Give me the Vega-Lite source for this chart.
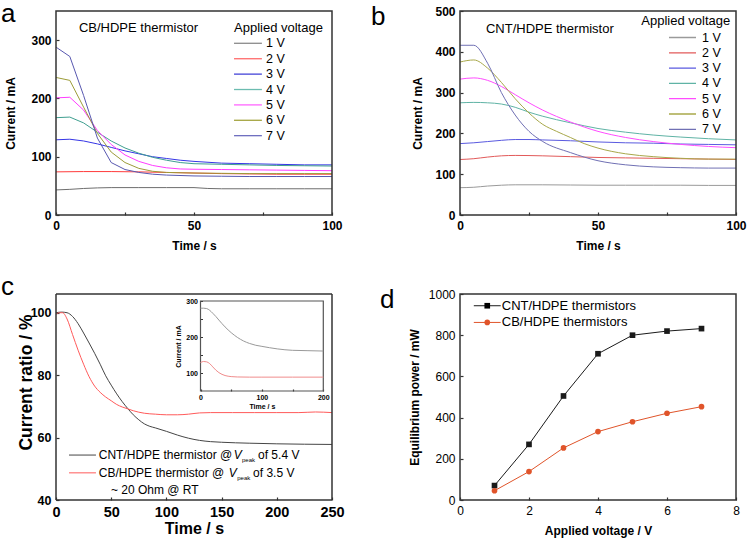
{
  "$schema": "https://vega.github.io/schema/vega-lite/v6.json",
  "padding": {"left": 1, "top": 1, "right": 5, "bottom": 4},
  "config": {
    "font": "Liberation Sans",
    "view": {"stroke": null},
    "axis": {"grid": false, "domain": false, "tickSize": -3, "tickColor": "#333333", "tickWidth": 1.2, "labelPadding": 8, "labelFlush": false, "labelOverlap": false, "labelColor": "#000", "titleColor": "#000", "labelFont": "Liberation Sans", "titleFont": "Liberation Sans", "labelFontWeight": "bold", "titleFontWeight": "bold", "labelFontSize": 12, "titleFontSize": 12},
    "legend": {"labelFont": "Liberation Sans", "labelFontSize": 12.5, "labelColor": "#000", "padding": 0},
    "text": {"font": "Liberation Sans", "color": "#000"},
    "title": {"font": "Liberation Sans", "fontWeight": "normal", "fontSize": 26, "anchor": "start", "frame": "group", "offset": 0, "baseline": "alphabetic", "color": "#000"}
  },
  "columns": 2,
  "spacing": {"row": 79, "column": 128},
  "bounds": "flush",
  "resolve": {"scale": {"x": "independent", "y": "independent", "color": "independent", "shape": "independent"}, "legend": {"color": "independent"}},
  "datasets": {
    "a": [
      {"t":0,"I":43,"V":"1 V"},{"t":5,"I":44,"V":"1 V"},{"t":10,"I":45.5,"V":"1 V"},{"t":15,"I":46.5,"V":"1 V"},{"t":20,"I":47,"V":"1 V"},{"t":30,"I":47,"V":"1 V"},{"t":40,"I":47,"V":"1 V"},{"t":50,"I":47,"V":"1 V"},{"t":55,"I":45.5,"V":"1 V"},{"t":60,"I":45,"V":"1 V"},{"t":70,"I":45,"V":"1 V"},{"t":80,"I":45,"V":"1 V"},{"t":90,"I":45,"V":"1 V"},{"t":100,"I":45,"V":"1 V"},
      {"t":0,"I":74,"V":"2 V"},{"t":10,"I":74.5,"V":"2 V"},{"t":20,"I":74.5,"V":"2 V"},{"t":30,"I":74,"V":"2 V"},{"t":40,"I":73,"V":"2 V"},{"t":50,"I":72,"V":"2 V"},{"t":60,"I":71,"V":"2 V"},{"t":70,"I":70.5,"V":"2 V"},{"t":80,"I":70,"V":"2 V"},{"t":90,"I":70,"V":"2 V"},{"t":100,"I":70,"V":"2 V"},
      {"t":0,"I":129,"V":"3 V"},{"t":5,"I":130,"V":"3 V"},{"t":10,"I":127,"V":"3 V"},{"t":15,"I":122,"V":"3 V"},{"t":20,"I":116,"V":"3 V"},{"t":25,"I":110,"V":"3 V"},{"t":30,"I":105,"V":"3 V"},{"t":35,"I":100,"V":"3 V"},{"t":40,"I":97,"V":"3 V"},{"t":45,"I":94,"V":"3 V"},{"t":50,"I":92,"V":"3 V"},{"t":60,"I":89,"V":"3 V"},{"t":70,"I":88,"V":"3 V"},{"t":80,"I":87,"V":"3 V"},{"t":90,"I":86,"V":"3 V"},{"t":100,"I":86,"V":"3 V"},
      {"t":0,"I":167,"V":"4 V"},{"t":5,"I":168,"V":"4 V"},{"t":10,"I":158,"V":"4 V"},{"t":15,"I":142,"V":"4 V"},{"t":20,"I":127,"V":"4 V"},{"t":25,"I":115,"V":"4 V"},{"t":30,"I":106,"V":"4 V"},{"t":35,"I":99,"V":"4 V"},{"t":40,"I":94,"V":"4 V"},{"t":45,"I":90,"V":"4 V"},{"t":50,"I":88,"V":"4 V"},{"t":60,"I":87,"V":"4 V"},{"t":70,"I":86,"V":"4 V"},{"t":80,"I":85,"V":"4 V"},{"t":90,"I":84.5,"V":"4 V"},{"t":100,"I":84,"V":"4 V"},
      {"t":0,"I":201,"V":"5 V"},{"t":5,"I":202,"V":"5 V"},{"t":10,"I":180,"V":"5 V"},{"t":15,"I":145,"V":"5 V"},{"t":20,"I":121,"V":"5 V"},{"t":25,"I":103,"V":"5 V"},{"t":30,"I":92,"V":"5 V"},{"t":35,"I":85,"V":"5 V"},{"t":40,"I":81,"V":"5 V"},{"t":45,"I":79,"V":"5 V"},{"t":50,"I":78.5,"V":"5 V"},{"t":60,"I":78,"V":"5 V"},{"t":70,"I":77.5,"V":"5 V"},{"t":80,"I":77,"V":"5 V"},{"t":90,"I":76.5,"V":"5 V"},{"t":100,"I":76,"V":"5 V"},
      {"t":0,"I":236,"V":"6 V"},{"t":5,"I":231,"V":"6 V"},{"t":10,"I":185,"V":"6 V"},{"t":15,"I":140,"V":"6 V"},{"t":20,"I":108,"V":"6 V"},{"t":25,"I":90,"V":"6 V"},{"t":30,"I":80,"V":"6 V"},{"t":35,"I":75,"V":"6 V"},{"t":40,"I":73,"V":"6 V"},{"t":50,"I":72,"V":"6 V"},{"t":60,"I":71.5,"V":"6 V"},{"t":70,"I":71,"V":"6 V"},{"t":80,"I":71,"V":"6 V"},{"t":90,"I":71,"V":"6 V"},{"t":100,"I":71,"V":"6 V"},
      {"t":0,"I":288,"V":"7 V"},{"t":5,"I":272,"V":"7 V"},{"t":10,"I":205,"V":"7 V"},{"t":15,"I":132,"V":"7 V"},{"t":20,"I":90,"V":"7 V"},{"t":25,"I":78,"V":"7 V"},{"t":30,"I":73,"V":"7 V"},{"t":35,"I":70,"V":"7 V"},{"t":40,"I":68.5,"V":"7 V"},{"t":50,"I":67,"V":"7 V"},{"t":60,"I":66.5,"V":"7 V"},{"t":70,"I":66,"V":"7 V"},{"t":80,"I":66,"V":"7 V"},{"t":90,"I":66,"V":"7 V"},{"t":100,"I":66,"V":"7 V"}
    ],
    "b": [
      {"t":0,"I":67,"V":"1 V"},{"t":5,"I":68,"V":"1 V"},{"t":10,"I":71,"V":"1 V"},{"t":15,"I":73,"V":"1 V"},{"t":20,"I":74,"V":"1 V"},{"t":30,"I":74,"V":"1 V"},{"t":40,"I":73.5,"V":"1 V"},{"t":50,"I":73,"V":"1 V"},{"t":60,"I":73,"V":"1 V"},{"t":70,"I":73,"V":"1 V"},{"t":80,"I":73,"V":"1 V"},{"t":90,"I":72.5,"V":"1 V"},{"t":100,"I":72.5,"V":"1 V"},
      {"t":0,"I":136,"V":"2 V"},{"t":5,"I":138,"V":"2 V"},{"t":10,"I":142,"V":"2 V"},{"t":15,"I":145,"V":"2 V"},{"t":20,"I":146,"V":"2 V"},{"t":30,"I":145,"V":"2 V"},{"t":40,"I":143,"V":"2 V"},{"t":50,"I":141,"V":"2 V"},{"t":60,"I":140,"V":"2 V"},{"t":70,"I":139,"V":"2 V"},{"t":80,"I":138,"V":"2 V"},{"t":90,"I":137,"V":"2 V"},{"t":100,"I":136,"V":"2 V"},
      {"t":0,"I":175,"V":"3 V"},{"t":5,"I":177,"V":"3 V"},{"t":10,"I":180,"V":"3 V"},{"t":15,"I":183,"V":"3 V"},{"t":20,"I":185,"V":"3 V"},{"t":25,"I":185,"V":"3 V"},{"t":30,"I":184,"V":"3 V"},{"t":40,"I":182,"V":"3 V"},{"t":50,"I":179,"V":"3 V"},{"t":60,"I":177,"V":"3 V"},{"t":70,"I":176,"V":"3 V"},{"t":80,"I":174,"V":"3 V"},{"t":90,"I":173,"V":"3 V"},{"t":100,"I":172,"V":"3 V"},
      {"t":0,"I":275,"V":"4 V"},{"t":5,"I":276,"V":"4 V"},{"t":10,"I":275,"V":"4 V"},{"t":15,"I":272,"V":"4 V"},{"t":20,"I":264,"V":"4 V"},{"t":25,"I":252,"V":"4 V"},{"t":30,"I":242,"V":"4 V"},{"t":40,"I":226,"V":"4 V"},{"t":50,"I":212,"V":"4 V"},{"t":60,"I":203,"V":"4 V"},{"t":70,"I":196,"V":"4 V"},{"t":80,"I":191,"V":"4 V"},{"t":90,"I":187,"V":"4 V"},{"t":100,"I":184,"V":"4 V"},
      {"t":0,"I":333,"V":"5 V"},{"t":5,"I":336,"V":"5 V"},{"t":10,"I":330,"V":"5 V"},{"t":15,"I":315,"V":"5 V"},{"t":20,"I":295,"V":"5 V"},{"t":25,"I":275,"V":"5 V"},{"t":30,"I":257,"V":"5 V"},{"t":40,"I":228,"V":"5 V"},{"t":50,"I":205,"V":"5 V"},{"t":60,"I":190,"V":"5 V"},{"t":70,"I":180,"V":"5 V"},{"t":80,"I":173,"V":"5 V"},{"t":90,"I":168,"V":"5 V"},{"t":100,"I":165,"V":"5 V"},
      {"t":0,"I":375,"V":"6 V"},{"t":5,"I":380,"V":"6 V"},{"t":10,"I":360,"V":"6 V"},{"t":15,"I":325,"V":"6 V"},{"t":20,"I":285,"V":"6 V"},{"t":25,"I":250,"V":"6 V"},{"t":30,"I":222,"V":"6 V"},{"t":35,"I":205,"V":"6 V"},{"t":40,"I":190,"V":"6 V"},{"t":45,"I":175,"V":"6 V"},{"t":50,"I":164,"V":"6 V"},{"t":60,"I":150,"V":"6 V"},{"t":70,"I":143,"V":"6 V"},{"t":80,"I":139,"V":"6 V"},{"t":90,"I":137,"V":"6 V"},{"t":100,"I":137,"V":"6 V"},
      {"t":0,"I":416,"V":"7 V"},{"t":5,"I":416,"V":"7 V"},{"t":10,"I":372,"V":"7 V"},{"t":15,"I":300,"V":"7 V"},{"t":20,"I":245,"V":"7 V"},{"t":25,"I":205,"V":"7 V"},{"t":30,"I":180,"V":"7 V"},{"t":40,"I":153,"V":"7 V"},{"t":50,"I":133,"V":"7 V"},{"t":60,"I":123,"V":"7 V"},{"t":70,"I":118,"V":"7 V"},{"t":80,"I":116,"V":"7 V"},{"t":90,"I":115,"V":"7 V"},{"t":100,"I":115,"V":"7 V"}
    ],
    "c": [
      {"t":0,"r":100,"s":"CNT"},{"t":5,"r":100.2,"s":"CNT"},{"t":10,"r":100,"s":"CNT"},{"t":15,"r":98.8,"s":"CNT"},{"t":20,"r":96.5,"s":"CNT"},{"t":25,"r":93.5,"s":"CNT"},{"t":30,"r":90.3,"s":"CNT"},{"t":35,"r":87,"s":"CNT"},{"t":40,"r":83.5,"s":"CNT"},{"t":45,"r":79.8,"s":"CNT"},{"t":50,"r":76.8,"s":"CNT"},{"t":55,"r":74,"s":"CNT"},{"t":60,"r":71.5,"s":"CNT"},{"t":65,"r":69.3,"s":"CNT"},{"t":70,"r":67.3,"s":"CNT"},{"t":75,"r":65.7,"s":"CNT"},{"t":80,"r":64.4,"s":"CNT"},{"t":85,"r":63.6,"s":"CNT"},{"t":90,"r":63.1,"s":"CNT"},{"t":100,"r":62,"s":"CNT"},{"t":110,"r":60.8,"s":"CNT"},{"t":120,"r":59.8,"s":"CNT"},{"t":130,"r":59.1,"s":"CNT"},{"t":140,"r":58.7,"s":"CNT"},{"t":150,"r":58.5,"s":"CNT"},{"t":175,"r":58.2,"s":"CNT"},{"t":200,"r":58,"s":"CNT"},{"t":250,"r":57.8,"s":"CNT"},
      {"t":0,"r":99.5,"s":"CB"},{"t":3,"r":100,"s":"CB"},{"t":6,"r":100,"s":"CB"},{"t":10,"r":98,"s":"CB"},{"t":15,"r":93,"s":"CB"},{"t":20,"r":88,"s":"CB"},{"t":25,"r":83.5,"s":"CB"},{"t":30,"r":79.5,"s":"CB"},{"t":35,"r":76.5,"s":"CB"},{"t":40,"r":74.5,"s":"CB"},{"t":45,"r":73,"s":"CB"},{"t":50,"r":71.8,"s":"CB"},{"t":55,"r":70.6,"s":"CB"},{"t":60,"r":69.8,"s":"CB"},{"t":65,"r":69.2,"s":"CB"},{"t":70,"r":68.6,"s":"CB"},{"t":80,"r":67.8,"s":"CB"},{"t":90,"r":67.5,"s":"CB"},{"t":100,"r":67.3,"s":"CB"},{"t":110,"r":67.3,"s":"CB"},{"t":120,"r":67.5,"s":"CB"},{"t":130,"r":67.9,"s":"CB"},{"t":140,"r":68,"s":"CB"},{"t":160,"r":68,"s":"CB"},{"t":180,"r":68,"s":"CB"},{"t":200,"r":68,"s":"CB"},{"t":220,"r":68,"s":"CB"},{"t":235,"r":68.2,"s":"CB"},{"t":250,"r":68,"s":"CB"}
    ],
    "inset": [
      {"t":0,"I":280,"s":"CNT"},{"t":5,"I":280,"s":"CNT"},{"t":10,"I":279,"s":"CNT"},{"t":15,"I":274,"s":"CNT"},{"t":20,"I":266,"s":"CNT"},{"t":25,"I":257,"s":"CNT"},{"t":30,"I":247,"s":"CNT"},{"t":40,"I":228,"s":"CNT"},{"t":50,"I":212,"s":"CNT"},{"t":60,"I":199,"s":"CNT"},{"t":70,"I":189,"s":"CNT"},{"t":80,"I":182,"s":"CNT"},{"t":90,"I":177,"s":"CNT"},{"t":100,"I":174,"s":"CNT"},{"t":125,"I":167,"s":"CNT"},{"t":150,"I":163,"s":"CNT"},{"t":175,"I":162,"s":"CNT"},{"t":200,"I":161,"s":"CNT"},
      {"t":0,"I":129,"s":"CB"},{"t":5,"I":132,"s":"CB"},{"t":10,"I":131,"s":"CB"},{"t":15,"I":126,"s":"CB"},{"t":20,"I":117,"s":"CB"},{"t":25,"I":108,"s":"CB"},{"t":30,"I":101,"s":"CB"},{"t":40,"I":93,"s":"CB"},{"t":50,"I":90,"s":"CB"},{"t":60,"I":89,"s":"CB"},{"t":80,"I":88.5,"s":"CB"},{"t":100,"I":88.5,"s":"CB"},{"t":150,"I":88.5,"s":"CB"},{"t":200,"I":88.5,"s":"CB"}
    ],
    "d": [
      {"V":1,"P":70,"s":"CNT/HDPE thermistors"},{"V":2,"P":270,"s":"CNT/HDPE thermistors"},{"V":3,"P":505,"s":"CNT/HDPE thermistors"},{"V":4,"P":710,"s":"CNT/HDPE thermistors"},{"V":5,"P":800,"s":"CNT/HDPE thermistors"},{"V":6,"P":820,"s":"CNT/HDPE thermistors"},{"V":7,"P":832,"s":"CNT/HDPE thermistors"},
      {"V":1,"P":45,"s":"CB/HDPE thermistors"},{"V":2,"P":138,"s":"CB/HDPE thermistors"},{"V":3,"P":253,"s":"CB/HDPE thermistors"},{"V":4,"P":332,"s":"CB/HDPE thermistors"},{"V":5,"P":380,"s":"CB/HDPE thermistors"},{"V":6,"P":421,"s":"CB/HDPE thermistors"},{"V":7,"P":453,"s":"CB/HDPE thermistors"}
    ]
  },
  "concat": [
    {
      "title": {"text": "a", "dx": -55, "dy": 21},
      "width": 276, "height": 204,
      "layer": [
        {
          "data": {"name": "a"},
          "mark": {"type": "line", "strokeWidth": 1},
          "encoding": {
            "x": {"field": "t", "type": "quantitative", "scale": {"domain": [0, 100], "nice": false}, "axis": {"title": "Time / s", "values": [0, 25, 50, 75, 100], "labelExpr": "datum.value % 50 === 0 ? datum.label : ''", "titlePadding": 9}},
            "y": {"field": "I", "type": "quantitative", "scale": {"domain": [0, 350], "nice": false}, "axis": {"title": "Current / mA", "values": [0, 50, 100, 150, 200, 250, 300], "labelExpr": "datum.value % 100 === 0 ? datum.label : ''", "titlePadding": 13}},
            "color": {"field": "V", "type": "nominal",
              "scale": {"domain": ["1 V", "2 V", "3 V", "4 V", "5 V", "6 V", "7 V"], "range": ["#6e6e6e", "#ff3b3b", "#3535e6", "#3f9f90", "#ff3cff", "#9c9c38", "#5858b0"]},
              "legend": null}
          }
        },
        {"data": {"values": [{}]}, "mark": {"type": "rule", "color": "#8a8a8a", "strokeWidth": 1.3}, "encoding": {"x": {"datum": 64.5, "type": "quantitative"}, "x2": {"datum": 74.6}, "y": {"datum": 294.6, "type": "quantitative"}}},
        {"data": {"values": [{}]}, "mark": {"type": "rule", "color": "#ff6b6b", "strokeWidth": 1.3}, "encoding": {"x": {"datum": 64.5, "type": "quantitative"}, "x2": {"datum": 74.6}, "y": {"datum": 268.1, "type": "quantitative"}}},
        {"data": {"values": [{}]}, "mark": {"type": "rule", "color": "#4545d8", "strokeWidth": 1.3}, "encoding": {"x": {"datum": 64.5, "type": "quantitative"}, "x2": {"datum": 74.6}, "y": {"datum": 241.7, "type": "quantitative"}}},
        {"data": {"values": [{}]}, "mark": {"type": "rule", "color": "#6cbcb0", "strokeWidth": 1.3}, "encoding": {"x": {"datum": 64.5, "type": "quantitative"}, "x2": {"datum": 74.6}, "y": {"datum": 215.3, "type": "quantitative"}}},
        {"data": {"values": [{}]}, "mark": {"type": "rule", "color": "#ff66ff", "strokeWidth": 1.3}, "encoding": {"x": {"datum": 64.5, "type": "quantitative"}, "x2": {"datum": 74.6}, "y": {"datum": 188.9, "type": "quantitative"}}},
        {"data": {"values": [{}]}, "mark": {"type": "rule", "color": "#a3a33f", "strokeWidth": 1.3}, "encoding": {"x": {"datum": 64.5, "type": "quantitative"}, "x2": {"datum": 74.6}, "y": {"datum": 162.5, "type": "quantitative"}}},
        {"data": {"values": [{}]}, "mark": {"type": "rule", "color": "#7070c0", "strokeWidth": 1.3}, "encoding": {"x": {"datum": 64.5, "type": "quantitative"}, "x2": {"datum": 74.6}, "y": {"datum": 136.1, "type": "quantitative"}}},
        {"data": {"values": [{}]}, "mark": {"type": "text", "align": "left", "baseline": "middle", "fontSize": 12.5}, "encoding": {"x": {"datum": 76.1, "type": "quantitative"}, "y": {"datum": 294.6, "type": "quantitative"}, "text": {"value": "1 V"}}},
        {"data": {"values": [{}]}, "mark": {"type": "text", "align": "left", "baseline": "middle", "fontSize": 12.5}, "encoding": {"x": {"datum": 76.1, "type": "quantitative"}, "y": {"datum": 268.1, "type": "quantitative"}, "text": {"value": "2 V"}}},
        {"data": {"values": [{}]}, "mark": {"type": "text", "align": "left", "baseline": "middle", "fontSize": 12.5}, "encoding": {"x": {"datum": 76.1, "type": "quantitative"}, "y": {"datum": 241.7, "type": "quantitative"}, "text": {"value": "3 V"}}},
        {"data": {"values": [{}]}, "mark": {"type": "text", "align": "left", "baseline": "middle", "fontSize": 12.5}, "encoding": {"x": {"datum": 76.1, "type": "quantitative"}, "y": {"datum": 215.3, "type": "quantitative"}, "text": {"value": "4 V"}}},
        {"data": {"values": [{}]}, "mark": {"type": "text", "align": "left", "baseline": "middle", "fontSize": 12.5}, "encoding": {"x": {"datum": 76.1, "type": "quantitative"}, "y": {"datum": 188.9, "type": "quantitative"}, "text": {"value": "5 V"}}},
        {"data": {"values": [{}]}, "mark": {"type": "text", "align": "left", "baseline": "middle", "fontSize": 12.5}, "encoding": {"x": {"datum": 76.1, "type": "quantitative"}, "y": {"datum": 162.5, "type": "quantitative"}, "text": {"value": "6 V"}}},
        {"data": {"values": [{}]}, "mark": {"type": "text", "align": "left", "baseline": "middle", "fontSize": 12.5}, "encoding": {"x": {"datum": 76.1, "type": "quantitative"}, "y": {"datum": 136.1, "type": "quantitative"}, "text": {"value": "7 V"}}},
        {
          "data": {"values": [{}]},
          "mark": {"type": "text", "align": "left", "baseline": "middle", "fontSize": 13},
          "encoding": {"x": {"datum": 8.3, "type": "quantitative"}, "y": {"datum": 320, "type": "quantitative"}, "text": {"value": "CB/HDPE thermistor"}}
        },
        {
          "data": {"values": [{}]},
          "mark": {"type": "text", "align": "left", "baseline": "middle", "fontSize": 13},
          "encoding": {"x": {"datum": 64.5, "type": "quantitative"}, "y": {"datum": 321, "type": "quantitative"}, "text": {"value": "Applied voltage"}}
        },
        {"data": {"values": [{}]}, "mark": {"type": "rect", "fill": "transparent", "stroke": "#333333", "strokeWidth": 1.5}, "encoding": {"x": {"datum": 0, "type": "quantitative"}, "x2": {"datum": 100}, "y": {"datum": 0, "type": "quantitative"}, "y2": {"datum": 350}}}
      ]
    },
    {
      "title": {"text": "b", "dx": -89, "dy": 29},
      "width": 276, "height": 204,
      "layer": [
        {
          "data": {"name": "b"},
          "mark": {"type": "line", "strokeWidth": 1, "interpolate": "monotone"},
          "encoding": {
            "x": {"field": "t", "type": "quantitative", "scale": {"domain": [0, 100], "nice": false}, "axis": {"title": "Time / s", "values": [0, 25, 50, 75, 100], "labelExpr": "datum.value % 50 === 0 ? datum.label : ''", "titlePadding": 9}},
            "y": {"field": "I", "type": "quantitative", "scale": {"domain": [0, 500], "nice": false}, "axis": {"title": "Current / mA", "values": [0, 50, 100, 150, 200, 250, 300, 350, 400, 450, 500], "labelExpr": "datum.value % 100 === 0 ? datum.label : ''", "titlePadding": 10}},
            "color": {"field": "V", "type": "nominal",
              "scale": {"domain": ["1 V", "2 V", "3 V", "4 V", "5 V", "6 V", "7 V"], "range": ["#9a9a9a", "#e25a5a", "#5a5ae0", "#5fb3a5", "#ff4cff", "#a8a84a", "#7070b4"]},
              "legend": {"orient": "none", "legendX": 208, "legendY": 20, "title": null, "symbolType": "stroke", "symbolSize": 729, "symbolStrokeWidth": 1.3, "clipHeight": 13, "rowPadding": 2.3, "labelOffset": 5}}
          }
        },
        {
          "data": {"values": [{}]},
          "mark": {"type": "text", "align": "left", "baseline": "middle", "fontSize": 13},
          "encoding": {"x": {"datum": 9.4, "type": "quantitative"}, "y": {"datum": 455, "type": "quantitative"}, "text": {"value": "CNT/HDPE thermistor"}}
        },
        {
          "data": {"values": [{}]},
          "mark": {"type": "text", "align": "left", "baseline": "middle", "fontSize": 13},
          "encoding": {"x": {"datum": 65.7, "type": "quantitative"}, "y": {"datum": 475, "type": "quantitative"}, "text": {"value": "Applied voltage"}}
        },
        {"data": {"values": [{}]}, "mark": {"type": "rect", "fill": "transparent", "stroke": "#333333", "strokeWidth": 1.5}, "encoding": {"x": {"datum": 0, "type": "quantitative"}, "x2": {"datum": 100}, "y": {"datum": 0, "type": "quantitative"}, "y2": {"datum": 500}}}
      ]
    },
    {
      "title": {"text": "c", "dx": -55, "dy": 11},
      "width": 276, "height": 206,
      "resolve": {"scale": {"x": "independent", "y": "independent", "color": "independent"}, "axis": {"x": "independent", "y": "independent"}},
      "layer": [
        {
          "layer": [
            {
              "data": {"name": "c"},
              "mark": {"type": "line", "strokeWidth": 1, "interpolate": "monotone"},
              "encoding": {
                "x": {"field": "t", "type": "quantitative", "scale": {"domain": [0, 250], "nice": false}, "axis": {"orient": "bottom", "title": "Time / s", "values": [0, 25, 50, 75, 100, 125, 150, 175, 200, 225, 250], "labelExpr": "datum.value % 50 === 0 ? datum.label : ''", "labelFontSize": 14.5, "titleFontSize": 16, "titlePadding": 2}},
                "y": {"field": "r", "type": "quantitative", "scale": {"domain": [40, 106], "nice": false}, "axis": {"orient": "left", "title": "Current ratio / %", "values": [40, 50, 60, 70, 80, 90, 100], "labelExpr": "datum.value % 20 === 0 ? datum.label : ''", "labelFontSize": 12.5, "titleFontSize": 17.5, "titleX": -21, "titleY": 88}},
                "color": {"field": "s", "type": "nominal", "scale": {"domain": ["CNT", "CB"], "range": ["#454545", "#ff5a5a"]}, "legend": null}
              }
            },
            {
              "data": {"values": [{}]},
              "mark": {"type": "rule", "color": "#454545", "strokeWidth": 1},
              "encoding": {"x": {"datum": 11.8, "type": "quantitative"}, "x2": {"datum": 36.2}, "y": {"datum": 54.4, "type": "quantitative"}}
            },
            {
              "data": {"values": [{}]},
              "mark": {"type": "rule", "color": "#ff5a5a", "strokeWidth": 1},
              "encoding": {"x": {"datum": 11.8, "type": "quantitative"}, "x2": {"datum": 36.2}, "y": {"datum": 48.7, "type": "quantitative"}}
            },
            {
              "data": {"values": [{}]},
              "mark": {"type": "rule", "color": "#333333", "strokeWidth": 1.5},
              "encoding": {"x": {"datum": 0, "type": "quantitative"}, "x2": {"datum": 250}, "y": {"datum": 106, "type": "quantitative"}}
            },
            {
              "data": {"values": [{}]},
              "mark": {"type": "rule", "color": "#333333", "strokeWidth": 1.5},
              "encoding": {"x": {"datum": 0, "type": "quantitative"}, "x2": {"datum": 250}, "y": {"datum": 40, "type": "quantitative"}}
            },
            {
              "data": {"values": [{}]},
              "mark": {"type": "rule", "color": "#333333", "strokeWidth": 1.5},
              "encoding": {"x": {"datum": 250, "type": "quantitative"}, "y": {"datum": 40, "type": "quantitative"}, "y2": {"datum": 106}}
            },
            {
              "data": {"values": [{}]},
              "mark": {"type": "rule", "color": "#333333", "strokeWidth": 1.5},
              "encoding": {"x": {"datum": 0, "type": "quantitative"}, "y": {"datum": 40, "type": "quantitative"}, "y2": {"datum": 106}}
            },
            {
              "data": {"values": [{}]},
              "mark": {"type": "text", "align": "left", "baseline": "middle", "fontSize": 12},
              "encoding": {"x": {"datum": 38.7, "type": "quantitative"}, "y": {"datum": 54.4, "type": "quantitative"}, "text": {"value": "CNT/HDPE thermistor @"}}
            },
            {
              "data": {"values": [{}]},
              "mark": {"type": "text", "align": "left", "baseline": "middle", "fontSize": 12, "fontStyle": "italic"},
              "encoding": {"x": {"datum": 161, "type": "quantitative"}, "y": {"datum": 54.4, "type": "quantitative"}, "text": {"value": "V"}}
            },
            {
              "data": {"values": [{}]},
              "mark": {"type": "text", "align": "left", "baseline": "middle", "fontSize": 6},
              "encoding": {"x": {"datum": 168.5, "type": "quantitative"}, "y": {"datum": 52.9, "type": "quantitative"}, "text": {"value": "peak"}}
            },
            {
              "data": {"values": [{}]},
              "mark": {"type": "text", "align": "left", "baseline": "middle", "fontSize": 12},
              "encoding": {"x": {"datum": 183, "type": "quantitative"}, "y": {"datum": 54.4, "type": "quantitative"}, "text": {"value": "of 5.4 V"}}
            },
            {
              "data": {"values": [{}]},
              "mark": {"type": "text", "align": "left", "baseline": "middle", "fontSize": 12},
              "encoding": {"x": {"datum": 38.7, "type": "quantitative"}, "y": {"datum": 48.7, "type": "quantitative"}, "text": {"value": "CB/HDPE thermistor @"}}
            },
            {
              "data": {"values": [{}]},
              "mark": {"type": "text", "align": "left", "baseline": "middle", "fontSize": 12, "fontStyle": "italic"},
              "encoding": {"x": {"datum": 156.4, "type": "quantitative"}, "y": {"datum": 48.7, "type": "quantitative"}, "text": {"value": "V"}}
            },
            {
              "data": {"values": [{}]},
              "mark": {"type": "text", "align": "left", "baseline": "middle", "fontSize": 6},
              "encoding": {"x": {"datum": 164.2, "type": "quantitative"}, "y": {"datum": 47.2, "type": "quantitative"}, "text": {"value": "peak"}}
            },
            {
              "data": {"values": [{}]},
              "mark": {"type": "text", "align": "left", "baseline": "middle", "fontSize": 12},
              "encoding": {"x": {"datum": 178.5, "type": "quantitative"}, "y": {"datum": 48.7, "type": "quantitative"}, "text": {"value": "of 3.5 V"}}
            },
            {
              "data": {"values": [{}]},
              "mark": {"type": "text", "align": "left", "baseline": "middle", "fontSize": 12},
              "encoding": {"x": {"datum": 49.8, "type": "quantitative"}, "y": {"datum": 43.2, "type": "quantitative"}, "text": {"value": "~ 20 Ohm @ RT"}}
            }
          ]
        },
        {
          "layer": [
            {
              "data": {"values": [{}]},
              "mark": {"type": "rect", "fill": "transparent", "stroke": "#555555", "strokeWidth": 1.2},
              "encoding": {
                "x": {"datum": 0, "type": "quantitative", "scale": {"domain": [0, 200], "range": [144.5, 267.3], "nice": false},
                  "axis": {"orient": "bottom", "offset": -109, "title": "Time / s", "values": [0, 50, 100, 150, 200], "labelExpr": "datum.value % 100 === 0 ? datum.label : ''", "labelFontSize": 7, "titleFontSize": 7, "tickSize": -2, "labelPadding": 4, "titlePadding": 2}},
                "x2": {"datum": 200},
                "y": {"datum": 50, "type": "quantitative", "scale": {"domain": [50, 300], "range": [97, 7], "nice": false},
                  "axis": {"orient": "left", "offset": -144.5, "title": "Current / mA", "values": [100, 150, 200, 250, 300], "labelExpr": "datum.value % 100 === 0 ? datum.label : ''", "labelFontSize": 7, "titleFontSize": 7, "tickSize": -2, "labelPadding": 5, "titlePadding": 4}},
                "y2": {"datum": 300}
              }
            },
            {
              "data": {"name": "inset"},
              "mark": {"type": "line", "strokeWidth": 1, "interpolate": "monotone"},
              "encoding": {
                "x": {"field": "t", "type": "quantitative"},
                "y": {"field": "I", "type": "quantitative"},
                "color": {"field": "s", "type": "nominal", "scale": {"domain": ["CNT", "CB"], "range": ["#9a9a9a", "#f08c8c"]}, "legend": null}
              }
            }
          ]
        }
      ]
    },
    {
      "title": {"text": "d", "dx": -80, "dy": 29},
      "width": 276, "height": 206,
      "layer": [
        {
          "data": {"name": "d"},
          "mark": {"type": "line", "strokeWidth": 1},
          "encoding": {
            "x": {"field": "V", "type": "quantitative", "scale": {"domain": [0, 8], "nice": false}, "axis": {"title": "Applied voltage / V", "values": [0, 1, 2, 3, 4, 5, 6, 7, 8], "labelExpr": "datum.value % 2 === 0 ? datum.label : ''", "labelFontWeight": "normal", "titlePadding": 9}},
            "y": {"field": "P", "type": "quantitative", "scale": {"domain": [0, 1000], "nice": false}, "axis": {"title": "Equilibrium power / mW", "values": [0, 100, 200, 300, 400, 500, 600, 700, 800, 900, 1000], "labelExpr": "datum.value % 200 === 0 ? format(datum.value, 'd') : ''", "labelFontWeight": "normal", "titlePadding": 7}},
            "color": {"field": "s", "type": "nominal", "scale": {"domain": ["CNT/HDPE thermistors", "CB/HDPE thermistors"], "range": ["#1a1a1a", "#e0542a"]}, "legend": null}
          }
        },
        {
          "data": {"name": "d"},
          "mark": {"type": "point", "filled": true, "size": 32, "opacity": 1},
          "encoding": {
            "x": {"field": "V", "type": "quantitative"},
            "y": {"field": "P", "type": "quantitative"},
            "color": {"field": "s", "type": "nominal", "legend": null},
            "shape": {"field": "s", "type": "nominal", "scale": {"domain": ["CNT/HDPE thermistors", "CB/HDPE thermistors"], "range": ["square", "circle"]}, "legend": null}
          }
        },
        {
          "data": {"values": [{}]},
          "mark": {"type": "rule", "color": "#1a1a1a", "strokeWidth": 1},
          "encoding": {"x": {"datum": 0.4, "type": "quantitative"}, "x2": {"datum": 1.18}, "y": {"datum": 943, "type": "quantitative"}}
        },
        {
          "data": {"values": [{}]},
          "mark": {"type": "rule", "color": "#e0542a", "strokeWidth": 1},
          "encoding": {"x": {"datum": 0.4, "type": "quantitative"}, "x2": {"datum": 1.18}, "y": {"datum": 862, "type": "quantitative"}}
        },
        {
          "data": {"values": [{}]},
          "mark": {"type": "point", "shape": "square", "filled": true, "size": 32, "opacity": 1, "color": "#000000"},
          "encoding": {"x": {"datum": 0.79, "type": "quantitative"}, "y": {"datum": 943, "type": "quantitative"}}
        },
        {
          "data": {"values": [{}]},
          "mark": {"type": "point", "shape": "circle", "filled": true, "size": 32, "opacity": 1, "color": "#e0542a"},
          "encoding": {"x": {"datum": 0.79, "type": "quantitative"}, "y": {"datum": 862, "type": "quantitative"}}
        },
        {
          "data": {"values": [{}]},
          "mark": {"type": "text", "align": "left", "baseline": "middle", "fontSize": 13},
          "encoding": {"x": {"datum": 1.21, "type": "quantitative"}, "y": {"datum": 943, "type": "quantitative"}, "text": {"value": "CNT/HDPE thermistors"}}
        },
        {
          "data": {"values": [{}]},
          "mark": {"type": "text", "align": "left", "baseline": "middle", "fontSize": 13},
          "encoding": {"x": {"datum": 1.21, "type": "quantitative"}, "y": {"datum": 862, "type": "quantitative"}, "text": {"value": "CB/HDPE thermistors"}}
        },
        {"data": {"values": [{}]}, "mark": {"type": "rect", "fill": "transparent", "stroke": "#333333", "strokeWidth": 1.5}, "encoding": {"x": {"datum": 0, "type": "quantitative"}, "x2": {"datum": 8}, "y": {"datum": 0, "type": "quantitative"}, "y2": {"datum": 1000}}}
      ]
    }
  ]
}
